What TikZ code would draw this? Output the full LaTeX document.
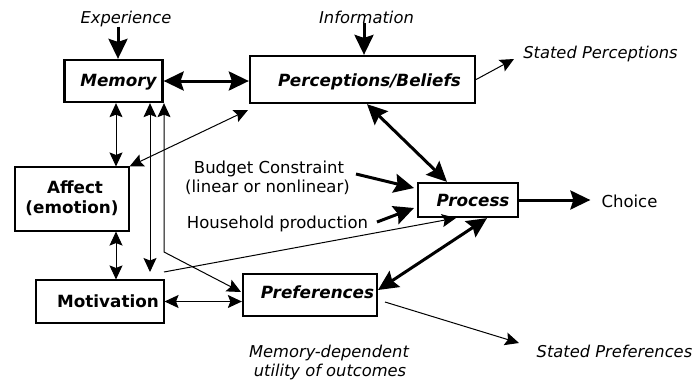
\documentclass[tikz,border=0pt]{standalone}
\usepackage{fontspec}
\setmainfont{DejaVu Sans}
\usetikzlibrary{arrows.meta,calc}
\begin{document}
\begin{tikzpicture}[x=1pt,y=-1pt,
  font=\fontsize{16.5pt}{19pt}\selectfont,
  bigbox/.style={draw, line width=2.3pt, inner sep=0pt, rectangle},
  smallbox/.style={draw, line width=1.1pt, inner sep=0pt, rectangle},
  boxlabel/.style={anchor=base, inner sep=0pt, font=\fontsize{16.8pt}{19pt}\selectfont\bfseries\itshape},
  plainlabel/.style={anchor=base, inner sep=0pt, font=\fontsize{16.8pt}{19pt}\selectfont\bfseries},
  itlabel/.style={anchor=base, inner sep=0pt, font=\fontsize{16.3pt}{19pt}\selectfont\itshape},
  txt/.style={anchor=base, inner sep=0pt},
  thickarr/.style={line width=3pt, -{Stealth[length=20pt,width=19pt,inset=3pt]}},
  thickboth/.style={line width=3pt, {Stealth[length=20pt,width=19pt,inset=3pt]}-{Stealth[length=20pt,width=19pt,inset=3pt]}},
  thinarr/.style={line width=1pt, -{Stealth[length=14pt,width=13pt,inset=2.5pt]}},
  thinboth/.style={line width=1pt, {Stealth[length=14pt,width=13pt,inset=2.5pt]}-{Stealth[length=14pt,width=13pt,inset=2.5pt]}}
]
\useasboundingbox[fill=white] (0,0) rectangle (699,381);

% boxes
\node[bigbox, minimum width=98pt, minimum height=42pt] (memory) at (113.5,81) {};
\node[bigbox, minimum width=225pt, minimum height=47pt] (perc) at (362.5,79.5) {};
\node[smallbox, minimum width=114pt, minimum height=64pt] (affect) at (72,199) {};
\node[smallbox, minimum width=128pt, minimum height=43pt] (motiv) at (100,301.5) {};
\node[bigbox, minimum width=100pt, minimum height=34pt] (process) at (468,200) {};
\node[bigbox, minimum width=134pt, minimum height=42pt] (pref) at (310,295) {};

% box texts
\node[boxlabel] (memoryT) at (118.5,86) {Memory};
\node[boxlabel] (percT) at (369.5,86) {Perceptions/Beliefs};
\node[plainlabel] (affectT) at (75,193) {Affect};
\node[plainlabel] (emotionT) at (72,213.5) {(emotion)};
\node[plainlabel] (motivT) at (108,307) {Motivation};
\node[boxlabel] (processT) at (473,206) {Process};
\node[boxlabel] (prefT) at (317.5,298.5) {Preferences};

% free texts
\node[itlabel] (expT) at (126,23) {Experience};
\node[itlabel] (infT) at (366.5,23) {Information};
\node[itlabel] (spT) at (600.5,58) {Stated Perceptions};
\node[itlabel] (sprT) at (614.5,357) {Stated Preferences};
\node[itlabel] (mdT) at (329,357) {Memory-dependent};
\node[itlabel] (uoT) at (330,376) {utility of outcomes};
\node[txt] (budT) at (269,173) {Budget Constraint};
\node[txt] (linT) at (267.5,192) {(linear or nonlinear)};
\node[txt] (hhT) at (277.5,228) {Household production};
\node[txt] (choiceT) at (629.5,207) {Choice};

% named free ends
\coordinate (spEnd) at (514,59);
\coordinate (budStart) at (356,174);
\coordinate (budEnd) at (414,188);
\coordinate (hhStart) at (377,222);
\coordinate (hhEnd) at (414,208);
\coordinate (sprStart) at (385,302);
\coordinate (sprEnd) at (519,343);
\coordinate (mLeftEnd) at (150,272);
\coordinate (mRightBend) at (164,252);
\coordinate (prefIn) at (241,292);
\coordinate (percIn) at (248,110);
\coordinate (procLineStart) at (164,272);
\coordinate (procIn) at (456,218);
\coordinate (prefTop) at (378,290);

% thick connectors
\draw[thickarr] (118,0 |- expT.south) -- (118,0 |- memory.north);
\draw[thickarr] (364,0 |- infT.south) -- (364,0 |- perc.north);
\draw[thickboth] (memory.east) -- (perc.west |- memory.east);
\draw[thickboth] (367,0 |- perc.south) -- (447,0 |- process.north);
\draw[thickarr] (budStart) -- (budEnd);
\draw[thickarr] (hhStart) -- (hhEnd);
\draw[thickarr] (process.east) -- ($(process.east -| choiceT.west)+(-11,0)$);
\draw[thickboth] (487,0 |- process.south) -- (prefTop);

% thin connectors
\draw[thinarr] (perc.east) -- (spEnd);
\draw[thinarr] (sprStart) -- (sprEnd);
\draw[thinboth] (116,0 |- memory.south) -- (116,0 |- affect.north);
\draw[thinboth] (116,0 |- affect.south) -- (116,0 |- motiv.north);
\draw[thinboth] (150,0 |- memory.south) -- (mLeftEnd);
\draw[thinboth] (164,0 |- memory.south) -- (mRightBend) -- (prefIn);
\draw[thinboth] (affect.north east) -- (percIn);
\draw[thinarr] (procLineStart) -- (procIn);
\draw[thinboth] (motiv.east) -- (motiv.east -| pref.west);
\end{tikzpicture}
\end{document}
